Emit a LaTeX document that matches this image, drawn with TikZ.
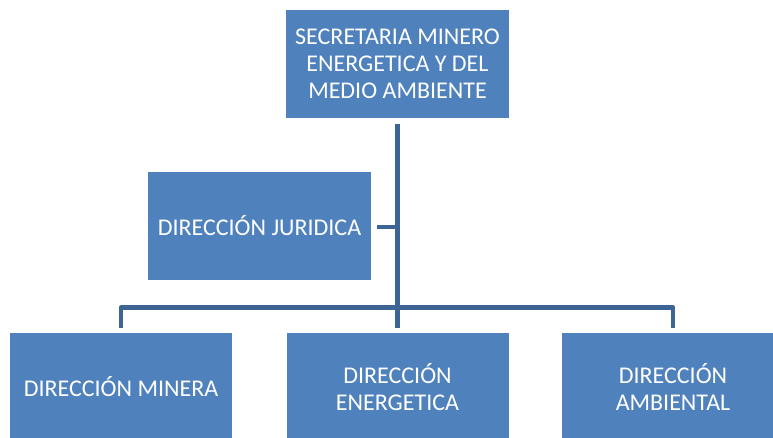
\documentclass[tikz,border=0pt]{standalone}
\usepackage{fontspec}
\setmainfont{Carlito}
\definecolor{boxblue}{HTML}{4F81BD}
\definecolor{lineblue}{HTML}{3C6595}
\begin{document}
\begin{tikzpicture}[x=1pt,y=1pt,
  orgbox/.style={fill=boxblue,draw=none,minimum width=222pt,minimum height=108pt,
    text=white,align=center,inner sep=0pt,
    font=\fontsize{24}{27}\selectfont},
  conn/.style={draw=lineblue,line width=4.6pt,line join=round}]
\useasboundingbox (0,0) rectangle (773,438);
\node[orgbox,minimum width=223pt] (top) at (397.5,374) {SECRETARIA MINERO\\ENERGETICA Y DEL\\MEDIO AMBIENTE};
\node[orgbox,minimum width=223pt] (jur) at (259.5,212) {DIRECCIÓN JURIDICA};
\node[orgbox] (min) at (121,51) {DIRECCIÓN MINERA};
\node[orgbox] (ene) at (397.5,51) {DIRECCIÓN\\ENERGETICA};
\node[orgbox] (amb) at (673,51) {DIRECCIÓN\\AMBIENTAL};
\coordinate (bar) at (397.5,130.5);
\draw[conn] ([yshift=-6pt]top.south) -- ([yshift=5pt]ene.north);
\draw[conn] ([xshift=6pt]jur.east |- 0,211) -- (top.south |- 0,211);
\draw[conn] ([yshift=5pt]min.north) |- (bar) -| ([yshift=5pt]amb.north);
\end{tikzpicture}
\end{document}
